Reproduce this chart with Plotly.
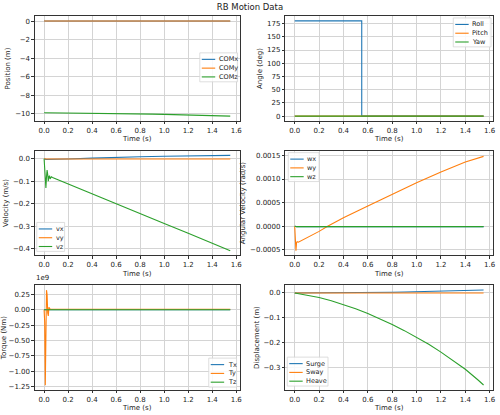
import plotly.graph_objects as go

# time grid for the smooth parts (s)
t = [0.0, 0.1, 0.2, 0.3, 0.4, 0.5, 0.6, 0.7, 0.8, 0.9, 1.0, 1.1, 1.2, 1.3, 1.4, 1.5, 1.55]

# position (m)
com_x = [0.0, 0.0, 0.0, 0.0, 0.0005, 0.001, 0.0015, 0.002, 0.003, 0.004, 0.005, 0.006, 0.007, 0.0085, 0.010, 0.011, 0.012]
com_y = [0.0, 0.0, 0.0, 0.0, 0.0, 0.0, 0.0, 0.0, 0.0, 0.0, 0.0, 0.0, 0.0, 0.0, 0.0, 0.0, 0.0]
com_z = [-9.90, -9.908, -9.918, -9.931, -9.946, -9.963, -9.982, -10.003, -10.026, -10.051, -10.077, -10.106, -10.137, -10.171, -10.206, -10.247, -10.269]

# angles (deg)
t_ang = [0.0, 0.55, 0.5501, 1.55]
roll = [180.0, 180.0, 0.0, 0.0]
pitch = [0.0, 0.0, 0.0, 0.0]
yaw = [0.0, 0.0, 0.0, 0.0]

# velocity (m/s)
t_v = [0.0, 0.005, 0.01, 0.015, 0.02, 0.025, 0.03, 0.035, 0.04, 0.045, 0.05, 0.06, 0.07,
       0.2, 0.4, 0.6, 0.8, 1.0, 1.2, 1.4, 1.55]
vx = [0.0, -0.002, -0.003, -0.003, -0.003, -0.003, -0.003, -0.003, -0.003, -0.003, -0.003, -0.003, -0.003,
      -0.001, 0.003, 0.007, 0.009, 0.011, 0.013, 0.014, 0.015]
vy = [0.0, -0.001, -0.001, -0.001, -0.001, -0.001, -0.001, -0.001, -0.001, -0.001, -0.001, -0.001, -0.001,
      -0.001, -0.001, -0.001, -0.001, -0.001, -0.001, -0.001, -0.001]
vz = [0.0, -0.04, -0.09, -0.13, -0.08, -0.05, -0.07, -0.10, -0.08, -0.075, -0.09, -0.08, -0.083,
      -0.112, -0.156, -0.200, -0.244, -0.288, -0.331, -0.375, -0.409]

# angular velocity (rad/s)
t_w = [0.0, 0.005, 0.01, 0.015, 0.02, 0.03, 0.1, 0.2, 0.27, 0.4, 0.6, 0.8, 1.0, 1.2, 1.4, 1.55]
wx = [0.0, -0.00001, -0.00001, -0.00001, -0.00001, -0.00001, -0.00001, -0.00001, -0.00001, -0.00001,
      -0.00001, -0.00001, -0.00001, -0.00001, -0.00001, -0.00001]
wy = [0.0, -0.0003, -0.00052, -0.00035, -0.00033, -0.00034, -0.00025, -0.00011, 0.0, 0.00018,
      0.00043, 0.00068, 0.00092, 0.00115, 0.00136, 0.00148]
wz = [0.0, -0.00001, -0.00001, -0.00001, -0.00001, -0.00001, -0.00001, -0.00001, -0.00001, -0.00001,
      -0.00001, -0.00001, -0.00001, -0.00001, -0.00001, -0.00001]

# torque (x 1e9 Nm)
t_T = [0.0, 0.005, 0.01, 0.015, 0.02, 0.025, 0.03, 0.035, 0.04, 0.045, 0.05, 0.06, 1.55]
Tx = [0.0, 0.0, 0.0, 0.0, 0.0, 0.0, 0.0, 0.0, 0.0, 0.0, 0.0, 0.0, 0.0]
Ty = [0.0, -0.2, -1.23, -0.5, 0.32, 0.25, -0.05, -0.10, 0.04, 0.02, 0.01, 0.008, 0.008]
Tz = [0.0, 0.0, 0.0, 0.0, 0.0, 0.0, 0.0, 0.0, 0.0, 0.0, 0.0, 0.0, 0.0]

# displacement (m)
surge = [0.0, 0.0, 0.0, 0.0, 0.0005, 0.001, 0.0015, 0.002, 0.003, 0.004, 0.005, 0.006, 0.007, 0.0085, 0.010, 0.011, 0.012]
sway = [0.0, 0.0, 0.0, 0.0, 0.0, 0.0, 0.0, 0.0, 0.0, 0.0, 0.0, 0.0, 0.0, 0.0, 0.0, 0.0, 0.0]
heave = [0.0, -0.008, -0.018, -0.031, -0.046, -0.063, -0.082, -0.103, -0.126, -0.151, -0.177, -0.206,
         -0.237, -0.271, -0.306, -0.347, -0.369]

blue, orange, green = "#1f77b4", "#ff7f0e", "#2ca02c"
colors = [blue, orange, green]

W, H = 500, 415

panels = [
    # (time, series, names, y title, y range, y ticks, tick format, legend box in px: left, top, width)
    (t, [com_x, com_y, com_z], ["COMx", "COMy", "COMz"], "Position (m)",
     [-10.78, 0.53], [0, -2, -4, -6, -8, -10], "d", (201, 53, 38)),
    (t_ang, [roll, pitch, yaw], ["Roll", "Pitch", "Yaw"], "Angle (deg)",
     [-9, 189], [0, 25, 50, 75, 100, 125, 150, 175], "d", (456, 18, 38)),
    (t_v, [vx, vy, vz], ["vx", "vy", "vz"], "Velocity (m/s)",
     [-0.430, 0.036], [0.0, -0.1, -0.2, -0.3, -0.4], ".1f", (37, 223, 28)),
    (t_w, [wx, wy, wz], ["wx", "wy", "wz"], "Angular Velocity (rad/s)",
     [-0.00062, 0.0016], [-0.0005, 0.0, 0.0005, 0.0010, 0.0015], ".4f", (290, 153, 31)),
    (t_T, [Tx, Ty, Tz], ["Tx", "Ty", "Tz"], "Torque (Nm)",
     [-1.3075, 0.4], [0.25, 0.0, -0.25, -0.5, -0.75, -1.0, -1.25], ".2f", (210, 359, 28)),
    (t, [surge, sway, heave], ["Surge", "Sway", "Heave"], "Displacement (m)",
     [-0.389, 0.031], [0.0, -0.1, -0.2, -0.3], ".1f", (289, 358, 41)),
]

x_domains = [[0.070, 0.482], [0.574, 0.992]]
y_domains = [[0.708, 0.961], [0.383, 0.636], [0.058, 0.311]]


def px(x):
    return x / W


def py(y):
    return 1 - y / H


fig = go.Figure()
layout = {}
shapes = []
annotations = [dict(text="1e9", xref="paper", yref="paper", x=0.068, y=0.313, xanchor="left",
                    yanchor="bottom", showarrow=False, font=dict(size=7))]

for i, (tt, series, names, ytitle, yrange, yticks, fmt, leg) in enumerate(panels):
    n = i + 1
    row, col = i // 2, i % 2
    xa = "x" if n == 1 else "x%d" % n
    ya = "y" if n == 1 else "y%d" % n
    for s, name, c in zip(series, names, colors):
        fig.add_trace(go.Scatter(x=tt, y=s, mode="lines", name=name, line=dict(color=c, width=1.1),
                                 xaxis=xa, yaxis=ya, showlegend=False))
    axis_style = dict(showline=True, linecolor="#333", linewidth=0.8, mirror=True,
                      showgrid=True, gridcolor="#d4d4d4", gridwidth=0.8, zeroline=False,
                      ticks="outside", ticklen=2.5, tickcolor="#333", tickfont=dict(size=7))
    layout["xaxis" if n == 1 else "xaxis%d" % n] = dict(
        domain=x_domains[col], anchor=ya, range=[-0.0775, 1.6275],
        tickvals=[0.0, 0.2, 0.4, 0.6, 0.8, 1.0, 1.2, 1.4, 1.6], tickformat=".1f",
        title=dict(text="Time (s)", font=dict(size=7), standoff=2), **axis_style)
    layout["yaxis" if n == 1 else "yaxis%d" % n] = dict(
        domain=y_domains[row], anchor=xa, range=yrange, tickvals=yticks, tickformat=fmt,
        title=dict(text=ytitle, font=dict(size=7), standoff=3), **axis_style)

    # matplotlib-style legend box
    left, top, width = leg
    shapes.append(dict(type="rect", xref="paper", yref="paper",
                       x0=px(left), x1=px(left + width), y0=py(top + 29), y1=py(top),
                       line=dict(color="#d6d6d6", width=0.8), fillcolor="rgba(255,255,255,0.85)"))
    for k, (name, c) in enumerate(zip(names, colors)):
        yc = top + 6.5 + k * 8.8
        shapes.append(dict(type="line", xref="paper", yref="paper",
                           x0=px(left + 2), x1=px(left + 15.5), y0=py(yc), y1=py(yc),
                           line=dict(color=c, width=1.1)))
        annotations.append(dict(text=name, xref="paper", yref="paper", x=px(left + 18), y=py(yc),
                                xanchor="left", yanchor="middle", showarrow=False,
                                font=dict(size=6.5), borderpad=0))

fig.update_layout(**layout)
fig.update_layout(
    width=W, height=H, margin=dict(l=0, r=0, t=0, b=0),
    paper_bgcolor="white", plot_bgcolor="white",
    font=dict(family="DejaVu Sans", color="#222"),
    title=dict(text="RB Motion Data", x=0.5, xanchor="center", y=0.99, yanchor="top", font=dict(size=8.5)),
    shapes=shapes,
    annotations=annotations,
)

fig.write_html("out.html", config={"displayModeBar": False},
               post_script="document.body.style.margin='0';")
